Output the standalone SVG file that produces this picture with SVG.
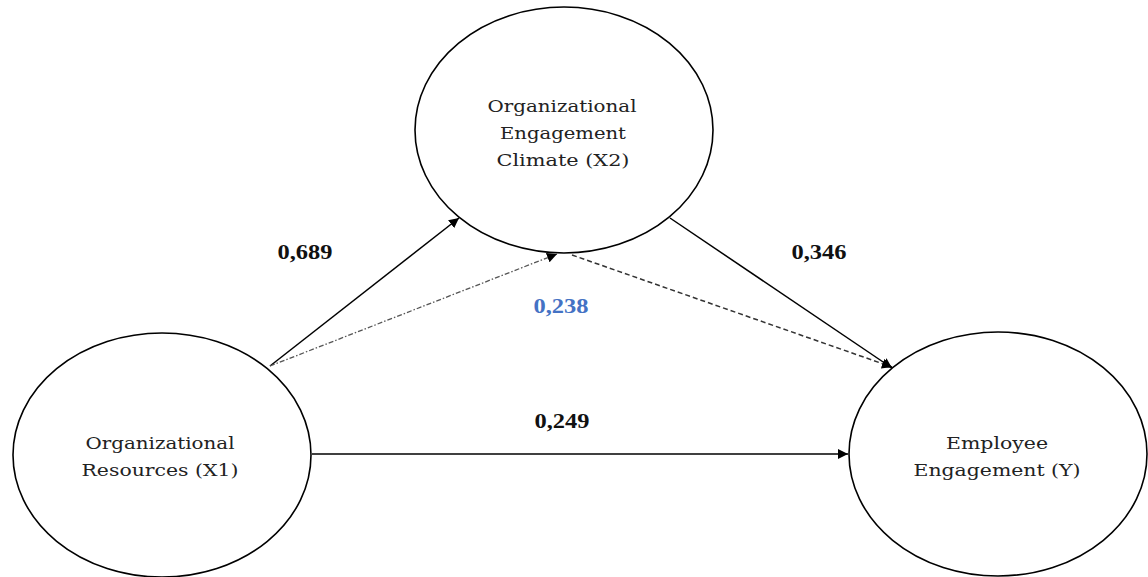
<svg xmlns="http://www.w3.org/2000/svg" width="1148" height="577" viewBox="0 0 1148 577">
<style>
.node ellipse{fill:#fff;stroke:#000;stroke-width:1.6}
.lbl{font-family:"DejaVu Serif","Liberation Serif",serif;font-size:17px;fill:#222;text-anchor:middle}
.num{font-family:"Liberation Serif","Times New Roman",serif;font-size:20px;font-weight:bold;fill:#111;text-anchor:middle}
.blue{fill:#4472C4}
.conn line{stroke:#000;stroke-width:1.5;fill:none}
</style>
<defs>
<marker id="arr" viewBox="0 0 10 10" refX="10" refY="5" markerWidth="10" markerHeight="10" markerUnits="userSpaceOnUse" orient="auto">
<path d="M0,0 L10,5 L0,10 z" fill="#000"/>
</marker>
</defs>
<rect width="1148" height="577" fill="#fff"/>
<g class="conn" id="connectors">
<line x1="270" y1="366" x2="459" y2="218" marker-end="url(#arr)"/>
<line x1="270" y1="366" x2="557" y2="254" stroke-dasharray="5 2 1.5 2" style="stroke:#555;stroke-width:1.3" marker-end="url(#arr)"/>
<line x1="572" y1="255" x2="892" y2="367" stroke-dasharray="5 3" style="stroke:#333" marker-end="url(#arr)"/>
<line x1="670" y1="218" x2="892" y2="368" marker-end="url(#arr)"/>
<line x1="312" y1="454" x2="848" y2="454" marker-end="url(#arr)"/>
</g>
<g id="x2" class="node">
<ellipse cx="564" cy="130" rx="149" ry="123"/>
<text class="lbl" x="562" y="112" textLength="149" lengthAdjust="spacingAndGlyphs">Organizational</text>
<text class="lbl" x="563" y="139" textLength="126" lengthAdjust="spacingAndGlyphs">Engagement</text>
<text class="lbl" x="563" y="166" textLength="133" lengthAdjust="spacingAndGlyphs">Climate (X2)</text>
</g>
<g id="x1" class="node">
<ellipse cx="162" cy="455" rx="149" ry="122"/>
<text class="lbl" x="160" y="449" textLength="149" lengthAdjust="spacingAndGlyphs">Organizational</text>
<text class="lbl" x="160" y="476" textLength="157" lengthAdjust="spacingAndGlyphs">Resources (X1)</text>
</g>
<g id="y" class="node">
<ellipse cx="998" cy="454" rx="149" ry="122"/>
<text class="lbl" x="997" y="449" textLength="102" lengthAdjust="spacingAndGlyphs">Employee</text>
<text class="lbl" x="997" y="476" textLength="167" lengthAdjust="spacingAndGlyphs">Engagement (Y)</text>
</g>
<g id="labels">
<text class="num" x="305" y="259" textLength="55" lengthAdjust="spacingAndGlyphs">0,689</text>
<text class="num blue" x="561" y="313" textLength="55" lengthAdjust="spacingAndGlyphs">0,238</text>
<text class="num" x="819" y="259" textLength="55" lengthAdjust="spacingAndGlyphs">0,346</text>
<text class="num" x="562" y="428" textLength="55" lengthAdjust="spacingAndGlyphs">0,249</text>
</g>
</svg>
